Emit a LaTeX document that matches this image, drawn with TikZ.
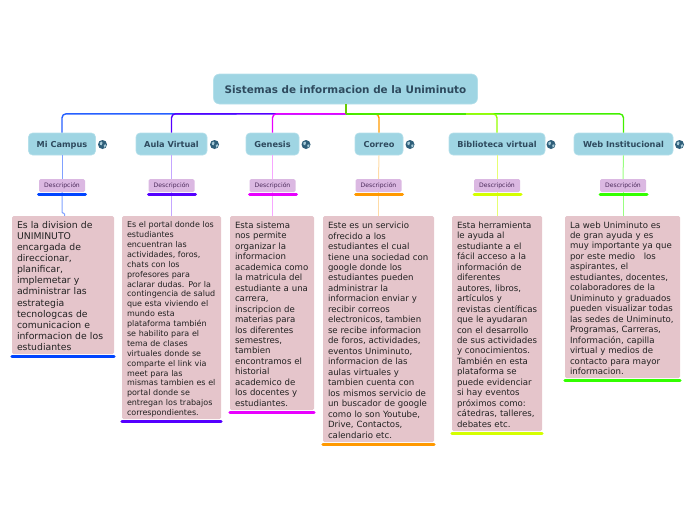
\documentclass[tikz,border=0pt]{standalone}
\usepackage{fontspec}
\setmainfont{DejaVu Sans}
\definecolor{topicfill}{HTML}{9FD5E3}
\definecolor{topicedge}{HTML}{B5E0EA}
\definecolor{inktext}{HTML}{2E4A5E}
\definecolor{descfill}{HTML}{DBB8E2}
\definecolor{desctext}{HTML}{4A2A5A}
\definecolor{bodyfill}{HTML}{E5C5CB}
\definecolor{bodytext}{HTML}{222222}
\definecolor{cblue}{HTML}{0044FF}
\definecolor{cviolet}{HTML}{5500FF}
\definecolor{cmagenta}{HTML}{E800FF}
\definecolor{corange}{HTML}{FF9900}
\definecolor{cyellow}{HTML}{D4FF00}
\definecolor{cgreen}{HTML}{33FF00}
\definecolor{cstem}{HTML}{66CC00}
\definecolor{globeink}{HTML}{2F5F7A}
\definecolor{globeland}{HTML}{A8CBD8}
\tikzset{
  x=1pt,y=-1pt,
  rootbox/.style={fill=topicfill,draw=topicedge,line width=0.6pt,rounded corners=6pt,minimum width=264pt,minimum height=30pt,inner sep=0pt,text=inktext,font=\bfseries\fontsize{10.4}{12}\selectfont},
  topicbox/.style={fill=topicfill,draw=topicedge,line width=0.6pt,rounded corners=4pt,minimum height=22pt,inner sep=0pt,text=inktext,font=\bfseries\fontsize{8.2}{10}\selectfont},
  descbox/.style={fill=descfill,rounded corners=1.5pt,minimum width=46pt,minimum height=13pt,inner sep=0pt,text=desctext,font=\fontsize{6.1}{8}\selectfont},
  textbox/.style={fill=bodyfill,rounded corners=1.5pt,inner xsep=5pt,inner ysep=0pt,text=bodytext},
  under/.style={line width=3pt,line cap=round},
  branch/.style={line width=1.4pt,rounded corners=4pt},
  twig/.style={line width=1pt},
  globeball/.style={circle,fill=globeink,inner sep=0pt,minimum size=9pt},
}
\newcommand{\dn}[2]{\raisebox{-#1pt}[\height][\depth]{#2}}
\newcommand{\blk}[1]{\dn{2.2}{\begin{tabular}{@{}l@{}}#1\end{tabular}}}
\newcommand{\globemark}[2]{%
  \node[globeball] (#1) at (#2) {};
  \fill[globeland] (#1.center) ++(-2.8,-1.8) -- ++(2.2,-1.2) -- ++(0.6,1.6) -- ++(-1,2.2) -- ++(-1.4,-0.6) -- cycle;
  \fill[globeland] (#1.center) ++(1.2,0.4) -- ++(2.2,-0.6) -- ++(-0.2,2) -- ++(-1.4,1.4) -- cycle;
}
\begin{document}
\begin{tikzpicture}
\useasboundingbox (0,0) rectangle (696,520);
% nodes
\node[rootbox] (root) at (345.5,89) {\dn{0.9}{Sistemas de informacion de la Uniminuto}};
\node[topicbox,minimum width=67pt] (t1) at (62,144) {\dn{0.9}{Mi Campus}};
\node[topicbox,minimum width=71pt] (t2) at (171.5,144) {\dn{0.9}{Aula Virtual}};
\node[topicbox,minimum width=53pt] (t3) at (272.5,144) {\dn{0.9}{Genesis}};
\node[topicbox,minimum width=48pt] (t4) at (379,144) {\dn{0.9}{Correo}};
\node[topicbox,minimum width=96pt] (t5) at (497,144) {\dn{0.9}{Biblioteca virtual}};
\node[topicbox,minimum width=99pt] (t6) at (623.5,144) {\dn{0.9}{Web Institucional}};
\globemark{g1}{102.5,144.5}
\globemark{g2}{214.5,144.5}
\globemark{g3}{306,144.5}
\globemark{g4}{410,144.5}
\globemark{g5}{551,144.5}
\globemark{g6}{679.5,144.5}
\node[descbox] (d1) at (62,185.5) {\dn{0.4}{Descripción}};
\node[descbox] (d2) at (171.5,185.5) {\dn{0.4}{Descripción}};
\node[descbox] (d3) at (272.5,185.5) {\dn{0.4}{Descripción}};
\node[descbox] (d4) at (378.5,185.5) {\dn{0.4}{Descripción}};
\node[descbox] (d5) at (497,185.5) {\dn{0.4}{Descripción}};
\node[descbox] (d6) at (623,185.5) {\dn{0.4}{Descripción}};
\node[textbox,text width=92pt,minimum height=138pt,font=\fontsize{9.3}{11.09}\selectfont] (b1) at (63,285) {\blk{Es la division de\\UNIMINUTO\\encargada de\\direccionar,\\planificar,\\implemetar y\\administrar las\\estrategia\\tecnologcas de\\comunicacion e\\informacion de los\\estudiantes}};
\node[textbox,text width=89pt,minimum height=203pt,font=\fontsize{8}{9.88}\selectfont] (b2) at (171.5,317.5) {\blk{Es el portal donde los\\estudiantes\\encuentran las\\actividades, foros,\\chats con los\\profesores para\\aclarar dudas. Por la\\contingencia de salud\\que esta viviendo el\\mundo esta\\plataforma también\\se habilito para el\\tema de clases\\virtuales donde se\\comparte el link via\\meet para las\\mismas tambien es el\\portal donde se\\entregan los trabajos\\correspondientes.}};
\node[textbox,text width=74pt,minimum height=194pt,font=\fontsize{8.6}{10.47}\selectfont] (b3) at (272,313) {\blk{Esta sistema\\nos permite\\organizar la\\informacion\\academica como\\la matricula del\\estudiante a una\\carrera,\\inscripcion de\\materias para\\los diferentes\\semestres,\\tambien\\encontramos el\\historial\\academico de\\los docentes y\\estudiantes.}};
\node[textbox,text width=101pt,minimum height=226pt,font=\fontsize{8.6}{10.47}\selectfont] (b4) at (378.5,329) {\blk{Este es un servicio\\ofrecido a los\\estudiantes el cual\\tiene una sociedad con\\google donde los\\estudiantes pueden\\administrar la\\informacion enviar y\\recibir correos\\electronicos, tambien\\se recibe informacion\\de foros, actividades,\\eventos Uniminuto,\\informacion de las\\aulas virtuales y\\tambien cuenta con\\los mismos servicio de\\un buscador de google\\como lo son Youtube,\\Drive, Contactos,\\calendario etc.}};
\node[textbox,text width=80pt,minimum height=215pt,font=\fontsize{8.6}{10.47}\selectfont] (b5) at (497,323.5) {\blk{Esta herramienta\\le ayuda al\\estudiante a el\\fácil acceso a la\\información de\\diferentes\\autores, libros,\\artículos y\\revistas científicas\\que le ayudaran\\con el desarrollo\\de sus actividades\\y conocimientos.\\También en esta\\plataforma se\\puede evidenciar\\si hay eventos\\próximos como:\\cátedras, talleres,\\debates etc.}};
\node[textbox,text width=105pt,minimum height=162pt,font=\fontsize{8.6}{10.47}\selectfont] (b6) at (622.5,297) {\blk{La web Uniminuto es\\de gran ayuda y es\\muy importante ya que\\por este medio \ \ los\\aspirantes, el\\estudiantes, docentes,\\colaboradores de la\\Uniminuto y graduados\\pueden visualizar todas\\las sedes de Uniminuto,\\Programas, Carreras,\\Información, capilla\\virtual y medios de\\contacto para mayor\\informacion.}};
% branches, root to topics
\draw[branch,cgreen!70!cstem] (root.south) ++(0.5,9.5) -| (t6.north);
\draw[branch,cyellow!60!cgreen] (root.south) ++(0.5,9.5) -| (t5.north);
\draw[branch,corange] (root.south) ++(0.5,9.5) -| (t4.north);
\draw[branch,cgreen!55!cstem] (root.south) ++(0.5,9.5) -- ++(120,0);
\draw[branch,cblue!85] (root.south) ++(-109,9.5) -| (t1.north);
\draw[branch,cviolet] (root.south) ++(0.5,9.5) -| (t2.north);
\draw[branch,cmagenta] (root.south) ++(0.5,9.5) -| (t3.north);
\draw[line width=1.6pt,cstem] ([xshift=0.5pt]root.south) -- ++(0,9.5);
% twigs, topic to description, description to text
\draw[twig,cblue!50] (t1.south) -- (d1.north);
\draw[twig,cviolet!35] (t2.south) -- (d2.north);
\draw[twig,cmagenta!35] (t3.south) -- (d3.north);
\draw[twig,corange!35] (t4.south) -- (d4.north);
\draw[twig,cyellow!55] (t5.south) -- (d5.north);
\draw[twig,cgreen!50] (t6.south) -- (d6.north);
\draw[twig,cblue!50,rounded corners=1pt] (d1.south) -- ++(0,21) -| ([xshift=1.5pt]b1.north);
\draw[twig,cviolet!35] (d2.south) -- (d2.south |- b2.north);
\draw[twig,cmagenta!35] (d3.south) -- (d3.south |- b3.north);
\draw[twig,corange!35] (d4.south) -- (d4.south |- b4.north);
\draw[twig,cyellow!55] (d5.south) -- (d5.south |- b5.north);
\draw[twig,cgreen!50] (d6.south) -- (d6.south |- b6.north);
% underlines
\draw[under,cblue] ([shift={(-23.5,2.5)}]d1.south) -- ++(47,0);
\draw[under,cviolet] ([shift={(-23,2.5)}]d2.south) -- ++(47,0);
\draw[under,cmagenta] ([shift={(-23,2.5)}]d3.south) -- ++(47,0);
\draw[under,corange] ([shift={(-23,2.5)}]d4.south) -- ++(47,0);
\draw[under,cyellow] ([shift={(-23,2.5)}]d5.south) -- ++(47,0);
\draw[under,cgreen] ([shift={(-23,2.5)}]d6.south) -- ++(47,0);
\draw[under,cblue] ([yshift=-2.5pt]b1.south west) -- ([yshift=-2.5pt]b1.south east);
\draw[under,cviolet] ([yshift=-2.5pt]b2.south west) -- ([yshift=-2.5pt]b2.south east);
\draw[under,cmagenta] ([yshift=-2.5pt]b3.south west) -- ([yshift=-2.5pt]b3.south east);
\draw[under,corange] ([yshift=-2.5pt]b4.south west) -- ([yshift=-2.5pt]b4.south east);
\draw[under,cyellow] ([yshift=-2.5pt]b5.south west) -- ([yshift=-2.5pt]b5.south east);
\draw[under,cgreen] ([yshift=-2.5pt]b6.south west) -- ([yshift=-2.5pt]b6.south east);
\end{tikzpicture}
\end{document}
